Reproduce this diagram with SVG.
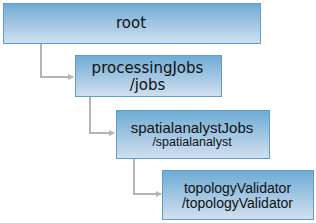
<svg xmlns="http://www.w3.org/2000/svg" width="316" height="223" viewBox="0 0 316 223">
<defs>
<linearGradient id="g" x1="0" y1="0" x2="0" y2="1">
<stop offset="0" stop-color="#6eabd4"/>
<stop offset="1" stop-color="#d2e0ef"/>
</linearGradient>
<marker id="arr" markerWidth="6" markerHeight="6" refX="5" refY="3" orient="auto" markerUnits="userSpaceOnUse">
<path d="M0,0 L6,3 L0,6 Z" fill="#b4b4b4"/>
</marker>
<style>
.box{fill:url(#g);stroke:#5d9dcb;stroke-width:1}
.con{fill:none;stroke:#b4b4b4;stroke-width:2}
.v{font-family:"DejaVu Sans",Verdana,sans-serif;fill:#111;text-anchor:middle}
.a{font-family:"Liberation Sans",Arial,sans-serif;fill:#111;text-anchor:middle}
</style>
</defs>
<rect width="316" height="223" fill="#fff"/>
<g id="connectors">
<path class="con" d="M41,43 V77 H73" marker-end="url(#arr)"/>
<path class="con" d="M90,97 V133 H114" marker-end="url(#arr)"/>
<path class="con" d="M134,158 V194 H161" marker-end="url(#arr)"/>
</g>
<g id="root">
<rect class="box" x="3.5" y="3.5" width="257" height="40"/>
<text class="v" x="131" y="28" font-size="15">root</text>
</g>
<g id="processingJobs">
<rect class="box" x="75.5" y="55.5" width="146" height="41"/>
<text class="v" x="147.5" y="73" font-size="15">processingJobs</text>
<text class="v" x="147.5" y="90" font-size="15">/jobs</text>
</g>
<g id="spatialanalystJobs">
<rect class="box" x="116.5" y="110.5" width="153" height="48"/>
<text class="a" x="192" y="133" font-size="15">spatialanalystJobs</text>
<text class="a" x="192" y="146" font-size="12.5">/spatialanalyst</text>
</g>
<g id="topologyValidator">
<rect class="box" x="162.5" y="170.5" width="151" height="49"/>
<text class="a" x="237.5" y="192.5" font-size="14">topologyValidator</text>
<text class="a" x="237.5" y="207.5" font-size="14">/topologyValidator</text>
</g>
</svg>
